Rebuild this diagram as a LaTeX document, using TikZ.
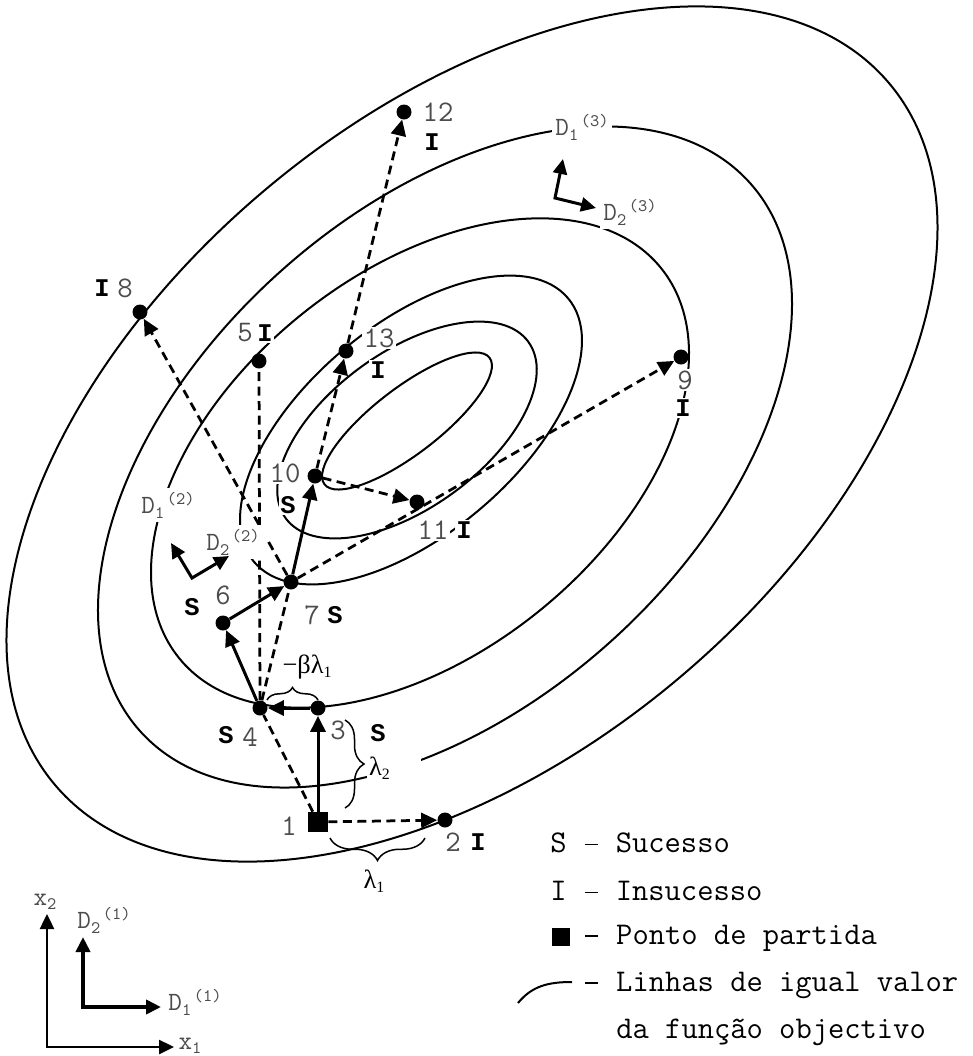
\documentclass[tikz,border=0pt]{standalone}
\usepackage{fontspec}
\setmainfont{Liberation Serif}
\newfontfamily\boldmono{Liberation Mono}
\usetikzlibrary{arrows.meta,decorations.pathreplacing}

\newcommand\numfont{\ttfamily\fontsize{17}{19}\selectfont}
\newcommand\resfont{\boldmono\bfseries\fontsize{14.5}{16}\selectfont}
\newcommand\dirfont{\ttfamily\fontsize{15}{17}\selectfont}
\newcommand\legfont{\ttfamily\fontsize{18}{20}\selectfont}
\newcommand\legdash{\makebox[0.525em]{\rule[0.23em]{0.42em}{0.05em}}}
\newcommand\dname[2]{D\raisebox{-2.5pt}{\fontsize{10}{10}\selectfont #1}\hspace{1.5pt}\raisebox{5.5pt}{\fontsize{10}{10}\selectfont (#2)}}
\newcommand\lsub[1]{\raisebox{-2.5pt}{\fontsize{9}{9}\selectfont #1}}

\tikzset{
  contour/.style={line width=0.04cm},
  pt/.style={circle, fill, inner sep=0pt, minimum size=0.3cm},
  startpt/.style={rectangle, fill, inner sep=0pt, minimum size=0.4cm},
  num/.style={font=\numfont, text=black!70, fill=white, inner sep=1pt},
  res/.style={font=\resfont, fill=white, inner sep=1pt},
  dirlab/.style={font=\dirfont, text=black!70, fill=white, inner sep=2pt},
  lam/.style={font=\fontsize{15}{17}\selectfont, fill=white, inner sep=1pt},
  leg/.style={font=\legfont, anchor=west, inner sep=0pt},
  move/.style={line width=0.06cm, -{Triangle[length=0.32cm,width=0.3cm]}},
  probe/.style={line width=0.055cm, dash pattern=on 0.18cm off 0.11cm},
  probearrow/.style={probe, -{Triangle[length=0.32cm,width=0.3cm]}},
  dirarrow/.style={line width=0.06cm, {Triangle[length=0.3cm,width=0.28cm]}-{Triangle[length=0.3cm,width=0.28cm]}},
  bracket/.style={decorate, line width=0.03cm},
}

\begin{document}
\begin{tikzpicture}[x=0.02cm, y=-0.02cm]
\useasboundingbox (0,0) rectangle (973,1056);

\draw[contour, shift={(472,434)}, rotate=40] (0,0) ellipse [x radius=545, y radius=320];
\draw[contour, shift={(445,457)}, rotate=42] (0,0) ellipse [x radius=410, y radius=248];
\draw[contour, shift={(420,463)}, rotate=39] (0,0) ellipse [x radius=310, y radius=190];
\draw[contour, shift={(411,430)}, rotate=40] (0,0) ellipse [x radius=205, y radius=105];
\draw[contour, shift={(407,430)}, rotate=36] (0,0) ellipse [x radius=150, y radius=78];
\draw[contour, shift={(407,421)}, rotate=37.5] (0,0) ellipse [x radius=104, y radius=33];

\node[startpt] (p1) at (318,822) {};
\node[pt] (p2) at (445,820) {};
\node[pt] (p3) at (318,708) {};
\node[pt] (p4) at (260,708) {};
\node[pt] (p5) at (259,361) {};
\node[pt] (p6) at (223,623) {};
\node[pt] (p7) at (291,582) {};
\node[pt] (p8) at (140,312) {};
\node[pt] (p9) at (681,357) {};
\node[pt] (p10) at (315,476) {};
\node[pt] (p11) at (417,502) {};
\node[pt] (p12) at (404,112) {};
\node[pt] (p13) at (346,351) {};

\draw[probe] (p1) -- (p4);
\draw[probe] (p4) -- (p7);
\draw[probe] (p4) -- (p5);
\draw[probearrow] (p1) -- (p2);
\draw[probearrow] (p7) -- (p8);
\draw[probearrow] (p7) -- (p9);
\draw[probearrow] (p10) -- (p11);
\draw[probearrow] (p10) -- (p13);
\draw[probearrow] (p13) -- (p12);

\node[num] (n1) at (289,826) {1};
\node[num] (n2) at (453,842) {2};
\node[res] (r2) at (478,842) {I};
\node[num] (n3) at (338,730) {3};
\node[res] (r3) at (378,733) {S};
\node[num] (n4) at (250,737) {4};
\node[res] (r4) at (226,735) {S};
\node[num] (n5) at (245,333) {5};
\node[res] (r5) at (265,333) {I};
\node[num] (n6) at (223,595) {6};
\node[res] (r6) at (192,607) {S};
\node[num] (n7) at (312,615) {7};
\node[res] (r7) at (335,615) {S};
\node[num] (n8) at (125,288) {8};
\node[res] (r8) at (102,288) {I};
\node[num] (n9) at (685,380) {9};
\node[res] (r9) at (683,408) {I};
\node[num] (n10) at (285,473) {10};
\node[res] (r10) at (288,505) {S};
\node[num] (n11) at (433,530) {11};
\node[res] (r11) at (464,530) {I};
\node[num] (n12) at (438,112) {12};
\node[res] (r12) at (432,142) {I};
\node[num] (n13) at (379,338) {13};
\node[res] (r13) at (378,370) {I};

\node[dirlab] (d1c) at (582,127) {\dname{1}{3}};
\node[dirlab] (d2c) at (630,212) {\dname{2}{3}};
\node[dirlab] (d1b) at (168,505) {\dname{1}{2}};
\node[dirlab, inner xsep=4pt] (d2b) at (233,542) {\dname{2}{2}};
\node[dirlab] (d2a) at (104,920) {\dname{2}{1}};
\node[dirlab] (d1a) at (195,1002) {\dname{1}{1}};
\node[dirlab] (x2) at (45,902) {x\raisebox{-2.5pt}{\fontsize{10}{10}\selectfont 2}};
\node[dirlab] (x1) at (190,1046) {x\raisebox{-2.5pt}{\fontsize{10}{10}\selectfont 1}};

\draw[move] (p1) -- (p3);
\draw[move] (p3) -- (p4);
\draw[move] (p4) -- (p6);
\draw[move] (p6) -- (p7);
\draw[move] (p7) -- (p10);

\coordinate (b1s) at (425,838);
\coordinate (b1e) at (330,838);
\coordinate (b2s) at (345,720);
\coordinate (b2e) at (345,808);
\coordinate (b3s) at (267,700);
\coordinate (b3e) at (318,700);
\draw[bracket, decoration={brace, amplitude=0.45cm}] (b1s) -- (b1e);
\draw[bracket, decoration={brace, amplitude=0.38cm}] (b2s) -- (b2e);
\draw[bracket, decoration={brace, amplitude=0.25cm}] (b3s) -- (b3e);
\node[lam] (l1) at (374,881) {λ\lsub{1}};
\node[lam, anchor=west, text width=1.0cm, minimum height=0.65cm] (l2) at (367,768) {λ\lsub{2}};
\node[lam] (l3) at (307,667) {−βλ\lsub{1}};

\coordinate (d3o) at (555,198);
\coordinate (d3a) at (563,159);
\coordinate (d3b) at (596,208);
\draw[dirarrow] (d3a) -- (d3o) -- (d3b);
\coordinate (d2o) at (192,578);
\coordinate (d2a) at (171,543);
\coordinate (d2b) at (229,556);
\draw[dirarrow] (d2a) -- (d2o) -- (d2b);
\coordinate (d1o) at (83,1007);
\coordinate (d1a) at (83,937);
\coordinate (d1b) at (161,1007);
\draw[dirarrow, line width=0.08cm] (d1a) -- (d1o) -- (d1b);
\coordinate (xo) at (47,1047);
\coordinate (xa) at (47,914);
\coordinate (xb) at (174,1047);
\draw[dirarrow, line width=0.05cm] (xa) -- (xo) -- (xb);

\node[leg] (legS) at (550,843) {S \legdash{} Sucesso};
\node[leg] (legI) at (550,891) {I \legdash{} Insucesso};
\node[startpt, minimum size=0.36cm] (legsq) at (561,937) {};
\node[leg] (legP) at (583,938) {\legdash{} Ponto de partida};
\node[leg] (legL) at (583,985) {\legdash{} Linhas de igual valor};
\node[leg] (legF) at (616,1032) {da função objectivo};
\draw[contour] (518,1003) .. controls (532,986) and (548,982) .. (572,982);
\end{tikzpicture}
\end{document}
